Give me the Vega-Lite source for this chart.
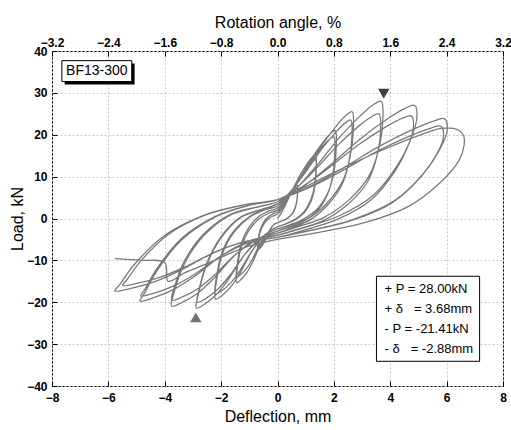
{
"$schema":"https://vega.github.io/schema/vega-lite/v6.json",
"width":451,"height":335,
"autosize":{"type":"none"},
"padding":{"left":52,"top":51,"right":8,"bottom":44},
"config":{
 "view":{"stroke":"black","strokeWidth":1},
 "axis":{"labelFont":"Liberation Sans","labelFontSize":12,"labelFontWeight":"bold","labelColor":"black","titleFont":"Liberation Sans","titleFontSize":16,"titleFontWeight":"normal","titleColor":"black","tickColor":"black","tickSize":-5,"domain":false,"gridColor":"#c8c8c8","gridDash":[2,2],"gridWidth":1,"labelFlush":false,"labelOverlap":false}
},
"datasets":{
"curve":[
{"i":0,"x":0,"y":0},
{"i":1,"x":0.14,"y":1.36},{"i":2,"x":0.28,"y":3.2},{"i":3,"x":0.42,"y":5.2},{"i":4,"x":0.56,"y":6.88},{"i":5,"x":0.651,"y":7.76},{"i":6,"x":0.7,"y":8},
{"i":7,"x":0.711,"y":6.38},{"i":8,"x":0.679,"y":4.04},{"i":9,"x":0.616,"y":2.42},{"i":10,"x":0.49,"y":0.89},{"i":11,"x":0.315,"y":-0.1},{"i":12,"x":0.14,"y":-0.64},{"i":13,"x":0,"y":-1},
{"i":14,"x":-0.14,"y":-1.52},{"i":15,"x":-0.28,"y":-2.95},{"i":16,"x":-0.42,"y":-5.03},{"i":17,"x":-0.525,"y":-6.33},{"i":18,"x":-0.63,"y":-7.18},{"i":19,"x":-0.7,"y":-7.5},
{"i":20,"x":-0.679,"y":-5.38},{"i":21,"x":-0.616,"y":-3.25},{"i":22,"x":-0.49,"y":-1.38},{"i":23,"x":-0.315,"y":-0.02},{"i":24,"x":-0.14,"y":0.66},{"i":25,"x":0,"y":1},
{"i":26,"x":0.14,"y":2.11},{"i":27,"x":0.28,"y":3.6},{"i":28,"x":0.42,"y":5.23},{"i":29,"x":0.56,"y":6.59},{"i":30,"x":0.651,"y":7.31},{"i":31,"x":0.7,"y":7.5},
{"i":32,"x":0.711,"y":5.97},{"i":33,"x":0.679,"y":3.76},{"i":34,"x":0.616,"y":2.23},{"i":35,"x":0.49,"y":0.79},{"i":36,"x":0.315,"y":-0.15},{"i":37,"x":0.14,"y":-0.66},{"i":38,"x":0,"y":-1},
{"i":39,"x":-0.14,"y":-1.48},{"i":40,"x":-0.28,"y":-2.8},{"i":41,"x":-0.42,"y":-4.72},{"i":42,"x":-0.525,"y":-5.92},{"i":43,"x":-0.63,"y":-6.7},{"i":44,"x":-0.7,"y":-7},
{"i":45,"x":-0.679,"y":-4.88},{"i":46,"x":-0.616,"y":-2.75},{"i":47,"x":-0.49,"y":-0.88},{"i":48,"x":-0.315,"y":0.48},{"i":49,"x":-0.14,"y":1.16},{"i":50,"x":0,"y":1.5},
{"i":51,"x":0.27,"y":3.85},{"i":52,"x":0.54,"y":7.02},{"i":53,"x":0.81,"y":10.47},{"i":54,"x":1.08,"y":13.37},{"i":55,"x":1.256,"y":14.89},{"i":56,"x":1.35,"y":15.3},
{"i":57,"x":1.37,"y":12.19},{"i":58,"x":1.31,"y":7.69},{"i":59,"x":1.188,"y":4.57},{"i":60,"x":0.945,"y":1.63},{"i":61,"x":0.608,"y":-0.27},{"i":62,"x":0.27,"y":-1.31},{"i":63,"x":0,"y":-2},
{"i":64,"x":-0.29,"y":-3.06},{"i":65,"x":-0.58,"y":-5.99},{"i":66,"x":-0.87,"y":-10.25},{"i":67,"x":-1.088,"y":-12.91},{"i":68,"x":-1.305,"y":-14.64},{"i":69,"x":-1.45,"y":-15.3},
{"i":70,"x":-1.407,"y":-10.98},{"i":71,"x":-1.276,"y":-6.65},{"i":72,"x":-1.015,"y":-2.84},{"i":73,"x":-0.653,"y":-0.08},{"i":74,"x":-0.29,"y":1.31},{"i":75,"x":0,"y":2},
{"i":76,"x":0.27,"y":4.04},{"i":77,"x":0.54,"y":6.8},{"i":78,"x":0.81,"y":9.8},{"i":79,"x":1.08,"y":12.32},{"i":80,"x":1.256,"y":13.64},{"i":81,"x":1.35,"y":14},
{"i":82,"x":1.37,"y":11.12},{"i":83,"x":1.31,"y":6.96},{"i":84,"x":1.188,"y":4.08},{"i":85,"x":0.945,"y":1.36},{"i":86,"x":0.608,"y":-0.4},{"i":87,"x":0.27,"y":-1.36},{"i":88,"x":0,"y":-2},
{"i":89,"x":-0.29,"y":-2.96},{"i":90,"x":-0.58,"y":-5.6},{"i":91,"x":-0.87,"y":-9.44},{"i":92,"x":-1.088,"y":-11.84},{"i":93,"x":-1.305,"y":-13.4},{"i":94,"x":-1.45,"y":-14},
{"i":95,"x":-1.407,"y":-9.88},{"i":96,"x":-1.276,"y":-5.75},{"i":97,"x":-1.015,"y":-2.12},{"i":98,"x":-0.653,"y":0.52},{"i":99,"x":-0.29,"y":1.84},{"i":100,"x":0,"y":2.5},
{"i":101,"x":0.41,"y":5.65},{"i":102,"x":0.82,"y":9.9},{"i":103,"x":1.23,"y":14.53},{"i":104,"x":1.64,"y":18.41},{"i":105,"x":1.907,"y":20.45},{"i":106,"x":2.05,"y":21},
{"i":107,"x":2.081,"y":16.77},{"i":108,"x":1.989,"y":10.66},{"i":109,"x":1.804,"y":6.43},{"i":110,"x":1.435,"y":2.44},{"i":111,"x":0.923,"y":-0.15},{"i":112,"x":0.41,"y":-1.56},{"i":113,"x":0,"y":-2.5},
{"i":114,"x":-0.44,"y":-3.84},{"i":115,"x":-0.88,"y":-7.54},{"i":116,"x":-1.32,"y":-12.92},{"i":117,"x":-1.65,"y":-16.28},{"i":118,"x":-1.98,"y":-18.46},{"i":119,"x":-2.2,"y":-19.3},
{"i":120,"x":-2.134,"y":-13.73},{"i":121,"x":-1.936,"y":-8.15},{"i":122,"x":-1.54,"y":-3.24},{"i":123,"x":-0.99,"y":0.32},{"i":124,"x":-0.44,"y":2.11},{"i":125,"x":0,"y":3},
{"i":126,"x":0.4,"y":5.81},{"i":127,"x":0.8,"y":9.6},{"i":128,"x":1.2,"y":13.73},{"i":129,"x":1.6,"y":17.19},{"i":130,"x":1.86,"y":19.01},{"i":131,"x":2.0,"y":19.5},
{"i":132,"x":2.03,"y":15.45},{"i":133,"x":1.94,"y":9.6},{"i":134,"x":1.76,"y":5.55},{"i":135,"x":1.4,"y":1.73},{"i":136,"x":0.9,"y":-0.75},{"i":137,"x":0.4,"y":-2.1},{"i":138,"x":0,"y":-3},
{"i":139,"x":-0.44,"y":-4.2},{"i":140,"x":-0.88,"y":-7.5},{"i":141,"x":-1.32,"y":-12.3},{"i":142,"x":-1.65,"y":-15.3},{"i":143,"x":-1.98,"y":-17.25},{"i":144,"x":-2.2,"y":-18},
{"i":145,"x":-2.134,"y":-12.75},{"i":146,"x":-1.936,"y":-7.5},{"i":147,"x":-1.54,"y":-2.88},{"i":148,"x":-0.99,"y":0.48},{"i":149,"x":-0.44,"y":2.16},{"i":150,"x":0,"y":3},
{"i":151,"x":0.53,"y":6.83},{"i":152,"x":1.06,"y":12},{"i":153,"x":1.59,"y":17.63},{"i":154,"x":2.12,"y":22.35},{"i":155,"x":2.465,"y":24.83},{"i":156,"x":2.65,"y":25.5},
{"i":157,"x":2.69,"y":21.23},{"i":158,"x":2.571,"y":14.67},{"i":159,"x":2.332,"y":9.26},{"i":160,"x":1.855,"y":4.41},{"i":161,"x":1.193,"y":0.42},{"i":162,"x":0.53,"y":-1.58},{"i":163,"x":0,"y":-3},
{"i":164,"x":-0.576,"y":-4.47},{"i":165,"x":-1.152,"y":-8.52},{"i":166,"x":-1.728,"y":-14.41},{"i":167,"x":-2.16,"y":-18.09},{"i":168,"x":-2.592,"y":-20.48},{"i":169,"x":-2.88,"y":-21.4},
{"i":170,"x":-2.794,"y":-17.67},{"i":171,"x":-2.534,"y":-11.44},{"i":172,"x":-2.016,"y":-4.72},{"i":173,"x":-1.296,"y":0.26},{"i":174,"x":-0.576,"y":2.13},{"i":175,"x":0,"y":3.5},
{"i":176,"x":0.52,"y":6.9},{"i":177,"x":1.04,"y":11.5},{"i":178,"x":1.56,"y":16.5},{"i":179,"x":2.08,"y":20.7},{"i":180,"x":2.418,"y":22.9},{"i":181,"x":2.6,"y":23.5},
{"i":182,"x":2.639,"y":19.45},{"i":183,"x":2.522,"y":13.24},{"i":184,"x":2.288,"y":8.11},{"i":185,"x":1.82,"y":3.52},{"i":186,"x":1.17,"y":-0.26},{"i":187,"x":0.52,"y":-2.15},{"i":188,"x":0,"y":-3.5},
{"i":189,"x":-0.57,"y":-4.82},{"i":190,"x":-1.14,"y":-8.45},{"i":191,"x":-1.71,"y":-13.73},{"i":192,"x":-2.138,"y":-17.03},{"i":193,"x":-2.565,"y":-19.18},{"i":194,"x":-2.85,"y":-20},
{"i":195,"x":-2.765,"y":-16.48},{"i":196,"x":-2.508,"y":-10.6},{"i":197,"x":-1.995,"y":-4.26},{"i":198,"x":-1.283,"y":0.45},{"i":199,"x":-0.57,"y":2.21},{"i":200,"x":0,"y":3.5},
{"i":201,"x":0.736,"y":7.67},{"i":202,"x":1.472,"y":13.3},{"i":203,"x":2.208,"y":19.43},{"i":204,"x":2.944,"y":24.57},{"i":205,"x":3.422,"y":27.27},{"i":206,"x":3.68,"y":28},
{"i":207,"x":3.735,"y":23.28},{"i":208,"x":3.57,"y":16.03},{"i":209,"x":3.238,"y":10.05},{"i":210,"x":2.576,"y":4.69},{"i":211,"x":1.656,"y":0.28},{"i":212,"x":0.736,"y":-1.93},{"i":213,"x":0,"y":-3.5},
{"i":214,"x":-0.752,"y":-4.89},{"i":215,"x":-1.504,"y":-8.72},{"i":216,"x":-2.256,"y":-14.29},{"i":217,"x":-2.82,"y":-17.77},{"i":218,"x":-3.384,"y":-20.03},{"i":219,"x":-3.76,"y":-20.9},
{"i":220,"x":-3.647,"y":-17.17},{"i":221,"x":-3.309,"y":-10.94},{"i":222,"x":-2.632,"y":-4.22},{"i":223,"x":-1.692,"y":0.76},{"i":224,"x":-0.752,"y":2.63},{"i":225,"x":0,"y":4},
{"i":226,"x":0.72,"y":7.57},{"i":227,"x":1.44,"y":12.4},{"i":228,"x":2.16,"y":17.65},{"i":229,"x":2.88,"y":22.06},{"i":230,"x":3.348,"y":24.37},{"i":231,"x":3.6,"y":25},
{"i":232,"x":3.654,"y":20.65},{"i":233,"x":3.492,"y":13.98},{"i":234,"x":3.168,"y":8.47},{"i":235,"x":2.52,"y":3.54},{"i":236,"x":1.62,"y":-0.52},{"i":237,"x":0.72,"y":-2.55},{"i":238,"x":0,"y":-4},
{"i":239,"x":-0.75,"y":-5.24},{"i":240,"x":-1.5,"y":-8.65},{"i":241,"x":-2.25,"y":-13.61},{"i":242,"x":-2.813,"y":-16.71},{"i":243,"x":-3.375,"y":-18.73},{"i":244,"x":-3.75,"y":-19.5},
{"i":245,"x":-3.638,"y":-15.98},{"i":246,"x":-3.3,"y":-10.1},{"i":247,"x":-2.625,"y":-3.76},{"i":248,"x":-1.688,"y":0.95},{"i":249,"x":-0.75,"y":2.71},{"i":250,"x":0,"y":4},
{"i":251,"x":0.974,"y":7.91},{"i":252,"x":1.948,"y":13.2},{"i":253,"x":2.922,"y":18.95},{"i":254,"x":3.896,"y":23.78},{"i":255,"x":4.529,"y":26.31},{"i":256,"x":4.87,"y":27},
{"i":257,"x":4.943,"y":23.9},{"i":258,"x":4.724,"y":18.94},{"i":259,"x":4.286,"y":13.05},{"i":260,"x":3.409,"y":5.61},{"i":261,"x":2.192,"y":0.65},{"i":262,"x":0.974,"y":-2.14},{"i":263,"x":0,"y":-4},
{"i":264,"x":-0.976,"y":-5.26},{"i":265,"x":-1.952,"y":-8.71},{"i":266,"x":-2.928,"y":-13.73},{"i":267,"x":-3.66,"y":-16.87},{"i":268,"x":-4.392,"y":-18.92},{"i":269,"x":-4.88,"y":-19.7},
{"i":270,"x":-4.734,"y":-18.01},{"i":271,"x":-4.294,"y":-12.68},{"i":272,"x":-3.416,"y":-5.18},{"i":273,"x":-2.196,"y":0.39},{"i":274,"x":-0.976,"y":3.17},{"i":275,"x":0,"y":4.5},
{"i":276,"x":0.95,"y":7.9},{"i":277,"x":1.9,"y":12.5},{"i":278,"x":2.85,"y":17.5},{"i":279,"x":3.8,"y":21.7},{"i":280,"x":4.418,"y":23.9},{"i":281,"x":4.75,"y":24.5},
{"i":282,"x":4.821,"y":21.6},{"i":283,"x":4.608,"y":16.96},{"i":284,"x":4.18,"y":11.45},{"i":285,"x":3.325,"y":4.49},{"i":286,"x":2.138,"y":-0.15},{"i":287,"x":0.95,"y":-2.76},{"i":288,"x":0,"y":-4.5},
{"i":289,"x":-0.97,"y":-5.62},{"i":290,"x":-1.94,"y":-8.7},{"i":291,"x":-2.91,"y":-13.18},{"i":292,"x":-3.638,"y":-15.98},{"i":293,"x":-4.365,"y":-17.8},{"i":294,"x":-4.85,"y":-18.5},
{"i":295,"x":-4.705,"y":-16.89},{"i":296,"x":-4.268,"y":-11.83},{"i":297,"x":-3.395,"y":-4.7},{"i":298,"x":-2.183,"y":0.59},{"i":299,"x":-0.97,"y":3.24},{"i":300,"x":0,"y":4.5},
{"i":301,"x":1.186,"y":7.78},{"i":302,"x":2.372,"y":12.22},{"i":303,"x":3.558,"y":17.05},{"i":304,"x":4.744,"y":21.1},{"i":305,"x":5.515,"y":23.22},{"i":306,"x":5.93,"y":23.8},
{"i":307,"x":6.019,"y":20.97},{"i":308,"x":5.752,"y":16.44},{"i":309,"x":5.218,"y":11.07},{"i":310,"x":4.151,"y":4.27},{"i":311,"x":2.669,"y":-0.26},{"i":312,"x":1.186,"y":-2.8},{"i":313,"x":0,"y":-4.5},
{"i":314,"x":-1.154,"y":-5.52},{"i":315,"x":-2.308,"y":-8.34},{"i":316,"x":-3.462,"y":-12.44},{"i":317,"x":-4.328,"y":-15},{"i":318,"x":-5.193,"y":-16.66},{"i":319,"x":-5.77,"y":-17.3},
{"i":320,"x":-5.597,"y":-15.77},{"i":321,"x":-5.078,"y":-10.98},{"i":322,"x":-4.039,"y":-4.22},{"i":323,"x":-2.597,"y":0.79},{"i":324,"x":-1.154,"y":3.3},{"i":325,"x":0,"y":4.5},
{"i":326,"x":1.16,"y":7.48},{"i":327,"x":2.32,"y":11.5},{"i":328,"x":3.48,"y":15.88},{"i":329,"x":4.64,"y":19.55},{"i":330,"x":5.394,"y":21.48},{"i":331,"x":5.8,"y":22},
{"i":332,"x":5.887,"y":19.35},{"i":333,"x":5.626,"y":15.11},{"i":334,"x":5.104,"y":10.08},{"i":335,"x":4.06,"y":3.72},{"i":336,"x":2.61,"y":-0.53},{"i":337,"x":1.16,"y":-2.91},{"i":338,"x":0,"y":-4.5},
{"i":339,"x":-1.1,"y":-5.42},{"i":340,"x":-2.2,"y":-7.95},{"i":341,"x":-3.3,"y":-11.63},{"i":342,"x":-4.125,"y":-13.93},{"i":343,"x":-4.95,"y":-15.43},{"i":344,"x":-5.5,"y":-16},
{"i":345,"x":-5.335,"y":-14.57},{"i":346,"x":-4.84,"y":-10.06},{"i":347,"x":-3.85,"y":-3.7},{"i":348,"x":-2.475,"y":1.02},{"i":349,"x":-1.1,"y":3.37},{"i":350,"x":0,"y":4.5},
{"i":351,"x":1.2,"y":8.3},{"i":352,"x":2.4,"y":12.3},{"i":353,"x":3.6,"y":16},{"i":354,"x":5.0,"y":19.8},{"i":355,"x":5.87,"y":21.6},{"i":356,"x":6.4,"y":21.2},{"i":357,"x":6.6,"y":19.8},
{"i":358,"x":6.62,"y":17.5},{"i":359,"x":6.441,"y":13.87},{"i":360,"x":5.843,"y":9.03},{"i":361,"x":4.648,"y":2.91},{"i":362,"x":2.988,"y":-1.18},{"i":363,"x":1.328,"y":-3.47},{"i":364,"x":0,"y":-5},
{"i":365,"x":-1.2,"y":-7.0},{"i":366,"x":-2.4,"y":-10.5},{"i":367,"x":-3.3,"y":-13},{"i":368,"x":-3.88,"y":-15},{"i":369,"x":-4.0,"y":-10.5},{"i":370,"x":-4.8,"y":-10.0},{"i":371,"x":-5.77,"y":-9.6}
]
},
"layer":[
 {"data":{"values":[{"r":-3.2},{"r":3.2}]},
  "mark":{"type":"point","opacity":0},
  "encoding":{"x":{"field":"r","type":"quantitative","scale":{"domain":[-3.2,3.2],"nice":false,"zero":false},
   "axis":{"orient":"top","values":[-3.2,-2.4,-1.6,-0.8,0,0.8,1.6,2.4,3.2],"format":".1f","title":"Rotation angle, %","grid":false,"labelPadding":7,"titlePadding":6}}}},
 {"layer":[
  {"data":{"name":"curve"},
   "mark":{"type":"line","color":"#7a7a7a","strokeWidth":1.3,"interpolate":"catmull-rom"},
   "encoding":{
    "x":{"field":"x","type":"quantitative","scale":{"domain":[-8,8],"nice":false,"zero":false},
      "axis":{"orient":"bottom","values":[-8,-6,-4,-2,0,2,4,6,8],"title":"Deflection, mm","grid":true,"labelPadding":11,"titlePadding":5}},
    "y":{"field":"y","type":"quantitative","scale":{"domain":[-40,40],"nice":false,"zero":false},
      "axis":{"orient":"left","values":[-40,-30,-20,-10,0,10,20,30,40],"title":"Load, kN","grid":true,"labelPadding":10,"titlePadding":1}},
    "order":{"field":"i","type":"quantitative"}}},
  {"mark":{"type":"rule","color":"#505050","strokeWidth":1},"encoding":{"x":{"datum":0}}},
  {"mark":{"type":"rule","color":"#505050","strokeWidth":1},"encoding":{"y":{"datum":0}}},
  {"data":{"values":[{"x1":-7.55,"x2":-5.07,"y1":37.0,"y2":32.0}]},
   "mark":{"type":"rect","fill":"black"},
   "encoding":{"x":{"field":"x1","type":"quantitative"},"x2":{"field":"x2"},"y":{"field":"y1","type":"quantitative"},"y2":{"field":"y2"}}},
  {"data":{"values":[{"x1":-7.65,"x2":-5.17,"y1":37.7,"y2":32.7}]},
   "mark":{"type":"rect","fill":"white","stroke":"black","strokeWidth":1},
   "encoding":{"x":{"field":"x1","type":"quantitative"},"x2":{"field":"x2"},"y":{"field":"y1","type":"quantitative"},"y2":{"field":"y2"}}},
  {"data":{"values":[{"t":"BF13-300","x":-6.41,"y":35.2}]},
   "mark":{"type":"text","font":"Liberation Sans","fontSize":14,"color":"black","align":"center","baseline":"middle"},
   "encoding":{"x":{"field":"x","type":"quantitative"},"y":{"field":"y","type":"quantitative"},"text":{"field":"t"}}},
  {"data":{"values":[{"x1":3.51,"x2":7.17,"y1":-13.8,"y2":-34.1}]},
   "mark":{"type":"rect","fill":"white","stroke":"black","strokeWidth":1},
   "encoding":{"x":{"field":"x1","type":"quantitative"},"x2":{"field":"x2"},"y":{"field":"y1","type":"quantitative"},"y2":{"field":"y2"}}},
  {"data":{"values":[
    {"t":"+ P = 28.00kN","x":3.8,"y":-16.9},
    {"t":"+ δ\u00a0\u00a0\u00a0= 3.68mm","x":3.8,"y":-21.7},
    {"t":"- P = -21.41kN","x":3.8,"y":-26.5},
    {"t":"- δ\u00a0\u00a0\u00a0= -2.88mm","x":3.8,"y":-31.2}]},
   "mark":{"type":"text","font":"Liberation Sans","fontSize":13,"color":"black","align":"left","baseline":"middle"},
   "encoding":{"x":{"field":"x","type":"quantitative"},"y":{"field":"y","type":"quantitative"},"text":{"field":"t"}}},
  {"data":{"values":[{"x":3.77,"y":29.8,"s":"triangle-down","c":"#404040"},{"x":-2.9,"y":-23.6,"s":"triangle-up","c":"#707070"}]},
   "mark":{"type":"point","filled":true,"size":130,"opacity":1},
   "encoding":{"x":{"field":"x","type":"quantitative"},"y":{"field":"y","type":"quantitative"},
    "shape":{"field":"s","type":"nominal","scale":null},"color":{"field":"c","type":"nominal","scale":null}}}
 ]}
],
"resolve":{"scale":{"x":"independent"}}
}
